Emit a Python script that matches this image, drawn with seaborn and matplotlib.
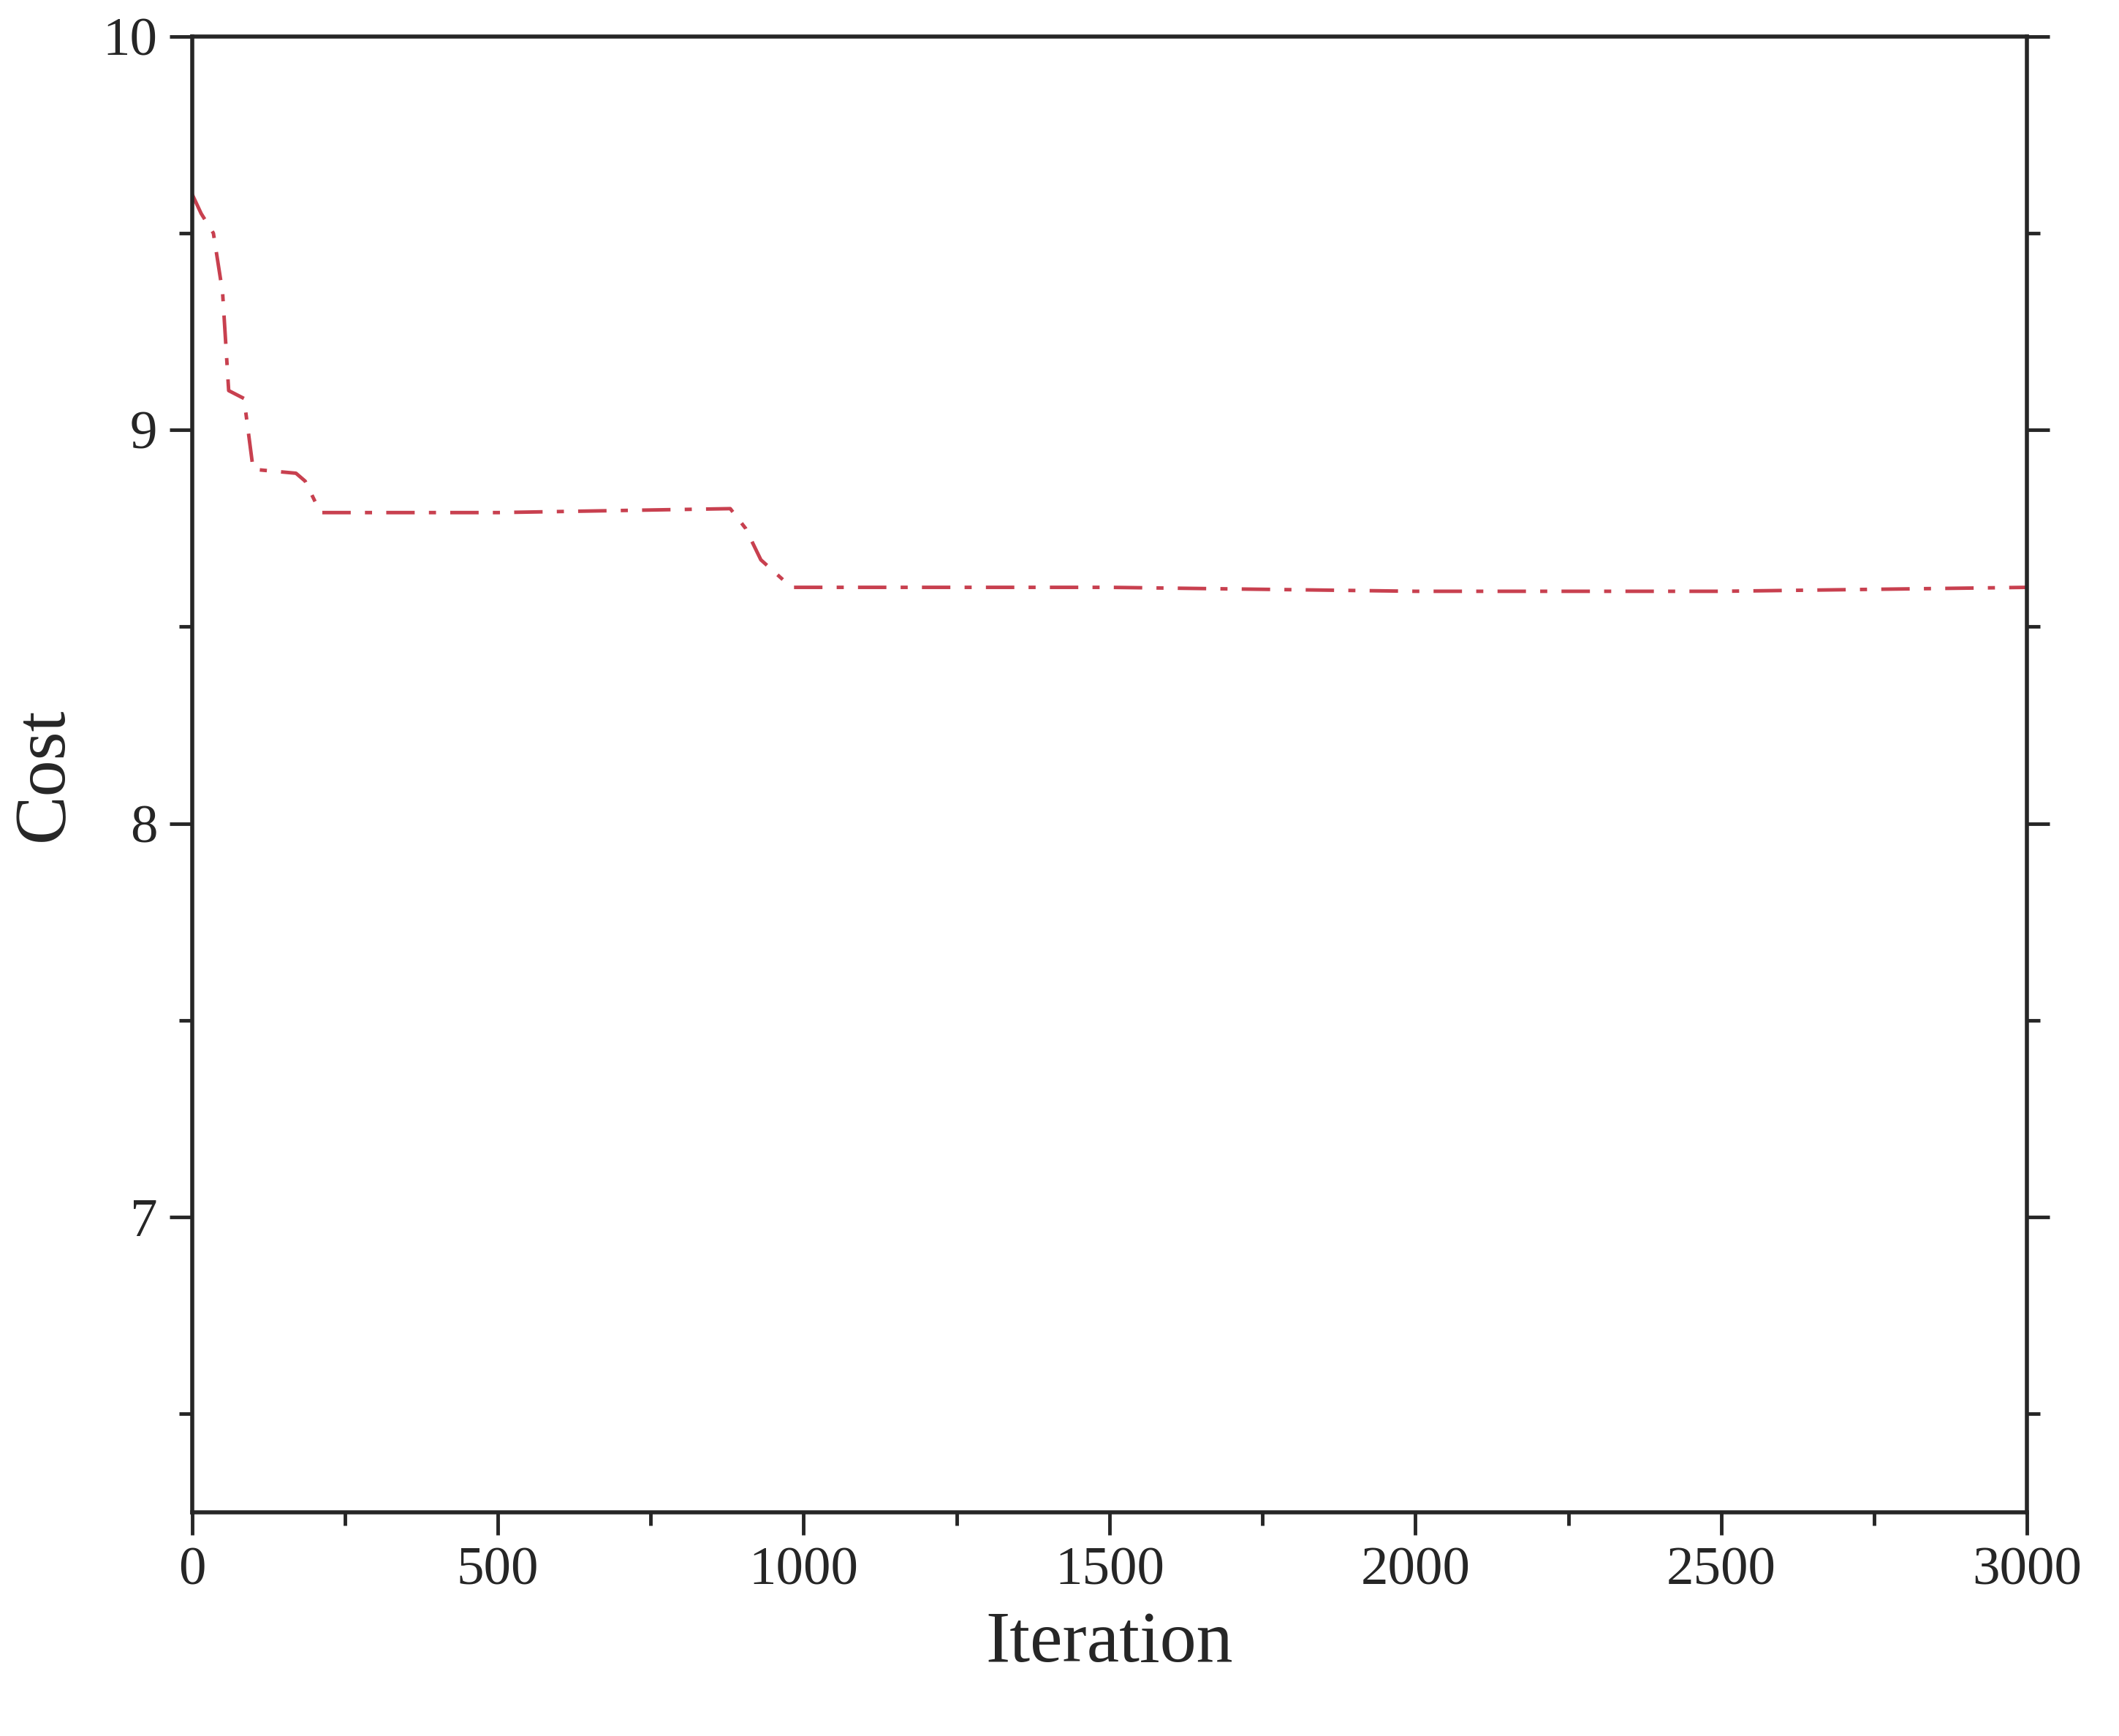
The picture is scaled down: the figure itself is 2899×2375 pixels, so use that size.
import numpy as np
import matplotlib
matplotlib.use("Agg")
import matplotlib.pyplot as plt
import seaborn as sns
import pandas as pd

iterations = [0, 15, 35, 50, 60, 85, 100, 170, 185, 210, 500, 880, 905, 930, 980, 1500, 2000, 2500, 3000]
cost = [9.6, 9.55, 9.5, 9.35, 9.1, 9.08, 8.9, 8.89, 8.87, 8.79, 8.79, 8.8, 8.75, 8.67, 8.6, 8.6, 8.59, 8.59, 8.6]

sns.set_style("ticks")
plt.rcParams['font.family'] = ['Liberation Serif', 'DejaVu Serif']

fig = plt.figure(figsize=(28.99, 23.75), dpi=100)
ax = fig.add_axes([0.0906, 0.129, 0.866, 0.85])

df = pd.DataFrame({"Iteration": iterations, "Cost": cost})
sns.lineplot(data=df, x="Iteration", y="Cost", ax=ax, color="#c8404f",
             linewidth=3.5, linestyle=(0, (8, 4, 2, 4)))

ax.set_xlim(0, 3000)
ax.set_ylim(6.25, 10)
ax.set_xticks([0, 500, 1000, 1500, 2000, 2500, 3000])
ax.set_xticks(np.arange(250, 3000, 500), minor=True)
ax.set_yticks([7, 8, 9, 10])
ax.set_yticks([6.5, 7.5, 8.5, 9.5], minor=True)
for s in ax.spines.values():
    s.set_linewidth(4)
ax.tick_params(which="both", direction="out", width=3.5, labelsize=54, pad=12)
ax.tick_params(which="major", length=22)
ax.tick_params(which="minor", length=13)
ax.tick_params(which="both", right=True)
ax.set_xlabel("Iteration", fontsize=72, labelpad=15)
ax.set_ylabel("Cost", fontsize=72, labelpad=25)

fig.savefig("out.png", dpi=100)
